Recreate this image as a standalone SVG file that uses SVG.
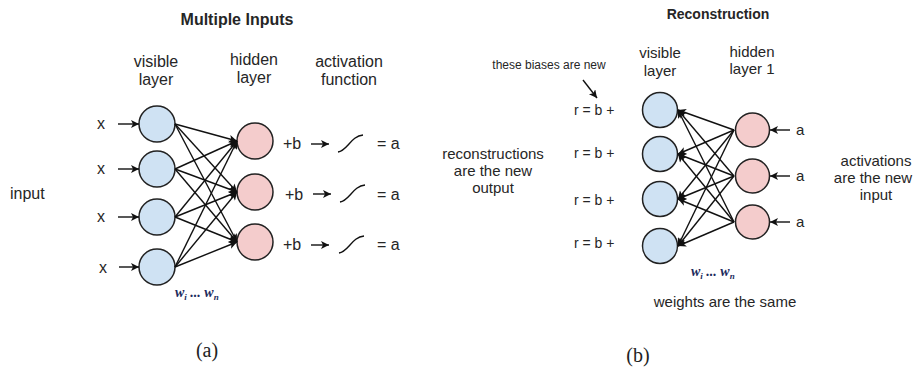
<svg xmlns="http://www.w3.org/2000/svg" width="915" height="373" viewBox="0 0 915 373">
<defs>
<marker id="ah" viewBox="0 0 10 10" refX="10" refY="5" markerWidth="10" markerHeight="8" orient="auto" markerUnits="userSpaceOnUse">
<path d="M0,0 L10,5 L0,10 L2.5,5 z" fill="#111"/>
</marker>
</defs>
<style>
text{font-family:"Liberation Sans",Arial,sans-serif;fill:#262626}
.t16{font-size:16px}
.t15{font-size:15px}
.t14{font-size:14px}
.bold{font-weight:bold}
.c{text-anchor:middle}
.vis{fill:#cfe2f3;stroke:#222;stroke-width:1.5}
.hid{fill:#f4cccc;stroke:#222;stroke-width:1.5}
.e{stroke:#111;stroke-width:1.4;fill:none;marker-end:url(#ah)}
.sig{stroke:#111;stroke-width:1.4;fill:none}
.w{font-family:"Liberation Serif",serif;font-style:italic;font-weight:bold;fill:#1c2a5c;font-size:14px}
.cap{font-family:"Liberation Serif",serif;font-size:20px;fill:#222}
</style>
<rect width="915" height="373" fill="#fff"/>

<!-- Panel (a) -->
<g id="title-a"><text class="t16 bold c" x="237" y="25">Multiple Inputs</text></g>
<g id="label-visible-a"><text class="t16 c" x="156" y="67">visible</text><text class="t16 c" x="156" y="85">layer</text></g>
<g id="label-hidden-a"><text class="t16 c" x="254" y="65">hidden</text><text class="t16 c" x="254" y="83">layer</text></g>
<g id="label-activation"><text class="t16 c" x="349" y="67">activation</text><text class="t16 c" x="349" y="85">function</text></g>
<g id="label-input"><text class="t16" x="10" y="199">input</text></g>

<g id="a-v1"><circle class="vis" cx="157" cy="124" r="18"/><text class="t16 c" x="101" y="129">x</text></g>
<g id="a-v2"><circle class="vis" cx="157" cy="169" r="18"/><text class="t16 c" x="101" y="174">x</text></g>
<g id="a-v3"><circle class="vis" cx="157" cy="217" r="18"/><text class="t16 c" x="101" y="222">x</text></g>
<g id="a-v4"><circle class="vis" cx="157" cy="267" r="18"/><text class="t16 c" x="103" y="273">x</text></g>

<g id="a-h1"><circle class="hid" cx="255" cy="141" r="18"/><text class="t16" x="283" y="149">+b</text><text class="t16" x="377" y="149">= a</text></g>
<g id="a-h2"><circle class="hid" cx="255" cy="192" r="18"/><text class="t16" x="285" y="200">+b</text><text class="t16" x="377" y="200">= a</text></g>
<g id="a-h3"><circle class="hid" cx="255" cy="242" r="18"/><text class="t16" x="283" y="250">+b</text><text class="t16" x="377" y="250">= a</text></g>

<g id="a-weights"><text class="w" x="175" y="297">w<tspan font-size="9" dy="2.5">i</tspan><tspan dy="-2.5"> ... w</tspan><tspan font-size="9" dy="2.5">n</tspan></text></g>
<g id="cap-a"><text class="cap c" x="207" y="357">(a)</text></g>

<!-- Panel (b) -->
<g id="title-b"><text class="t14 bold c" x="718" y="19">Reconstruction</text></g>
<g id="label-visible-b"><text class="t15 c" x="660" y="58">visible</text><text class="t15 c" x="660" y="76">layer</text></g>
<g id="label-hidden-b"><text class="t15 c" x="752" y="57">hidden</text><text class="t15 c" x="752" y="74">layer 1</text></g>
<g id="label-biases"><text class="c" font-size="12" x="549" y="69">these biases are new</text></g>
<g id="label-recon"><text class="t15 c" x="493" y="159">reconstructions</text><text class="t15 c" x="493" y="176">are the new</text><text class="t15 c" x="493" y="193">output</text></g>
<g id="label-activations"><text class="t15 c" x="876" y="166">activations</text><text class="t15 c" x="873" y="183">are the new</text><text class="t15 c" x="876" y="200">input</text></g>

<g id="b-v1"><circle class="vis" cx="660" cy="110" r="17.5"/><text class="t14" x="574" y="115">r = b +</text></g>
<g id="b-v2"><circle class="vis" cx="660" cy="154" r="17.5"/><text class="t14" x="574" y="158">r = b +</text></g>
<g id="b-v3"><circle class="vis" cx="660" cy="199" r="17.5"/><text class="t14" x="574" y="205">r = b +</text></g>
<g id="b-v4"><circle class="vis" cx="660" cy="246" r="17.5"/><text class="t14" x="574" y="248">r = b +</text></g>

<g id="b-h1"><circle class="hid" cx="752.5" cy="130" r="17"/><text class="t15" x="796" y="135">a</text></g>
<g id="b-h2"><circle class="hid" cx="752.5" cy="176" r="17"/><text class="t15" x="796" y="181">a</text></g>
<g id="b-h3"><circle class="hid" cx="752.5" cy="222" r="17"/><text class="t15" x="796" y="227">a</text></g>

<g id="b-weights"><text class="w" x="691" y="276">w<tspan font-size="9" dy="2.5">i</tspan><tspan dy="-2.5"> ... w</tspan><tspan font-size="9" dy="2.5">n</tspan></text></g>
<g id="label-same"><text class="t15 c" x="725" y="307">weights are the same</text></g>
<g id="cap-b"><text class="cap c" x="638" y="362">(b)</text></g>

<g id="connectors">
<!-- input arrows (a) -->
<line class="e" x1="118" y1="124" x2="139" y2="124"/>
<line class="e" x1="118" y1="169" x2="139" y2="169"/>
<line class="e" x1="118" y1="217" x2="139" y2="217"/>
<line class="e" x1="119" y1="267" x2="139" y2="267"/>
<!-- visible -> hidden (a) -->
<line class="e" x1="175" y1="124" x2="237" y2="141"/>
<line class="e" x1="175" y1="124" x2="237" y2="192"/>
<line class="e" x1="175" y1="124" x2="237" y2="242"/>
<line class="e" x1="175" y1="169" x2="237" y2="141"/>
<line class="e" x1="175" y1="169" x2="237" y2="192"/>
<line class="e" x1="175" y1="169" x2="237" y2="242"/>
<line class="e" x1="175" y1="217" x2="237" y2="141"/>
<line class="e" x1="175" y1="217" x2="237" y2="192"/>
<line class="e" x1="175" y1="217" x2="237" y2="242"/>
<line class="e" x1="175" y1="267" x2="237" y2="141"/>
<line class="e" x1="175" y1="267" x2="237" y2="192"/>
<line class="e" x1="175" y1="267" x2="237" y2="242"/>
<!-- +b arrows and sigmoids -->
<line class="e" x1="311" y1="144" x2="329" y2="144"/>
<line class="e" x1="313" y1="194" x2="331" y2="194"/>
<line class="e" x1="311" y1="245" x2="329" y2="245"/>
<path class="sig" d="M338,152 C347,151 351,136 363,135"/>
<path class="sig" d="M340,202 C349,201 353,186 365,185"/>
<path class="sig" d="M339,253 C348,252 352,237 364,236"/>
<!-- biases arrow (b) -->
<line class="e" x1="583" y1="80" x2="597" y2="98"/>
<!-- a arrows (b) -->
<line class="e" x1="790" y1="130" x2="770" y2="130"/>
<line class="e" x1="790" y1="176" x2="770" y2="176"/>
<line class="e" x1="790" y1="222" x2="770" y2="222"/>
<!-- hidden -> visible (b) -->
<line class="e" x1="734" y1="130" x2="678" y2="110"/>
<line class="e" x1="734" y1="130" x2="678" y2="154"/>
<line class="e" x1="734" y1="130" x2="678" y2="199"/>
<line class="e" x1="734" y1="130" x2="678" y2="246"/>
<line class="e" x1="734" y1="176" x2="678" y2="110"/>
<line class="e" x1="734" y1="176" x2="678" y2="154"/>
<line class="e" x1="734" y1="176" x2="678" y2="199"/>
<line class="e" x1="734" y1="176" x2="678" y2="246"/>
<line class="e" x1="734" y1="222" x2="678" y2="110"/>
<line class="e" x1="734" y1="222" x2="678" y2="154"/>
<line class="e" x1="734" y1="222" x2="678" y2="199"/>
<line class="e" x1="734" y1="222" x2="678" y2="246"/>
</g>
</svg>
